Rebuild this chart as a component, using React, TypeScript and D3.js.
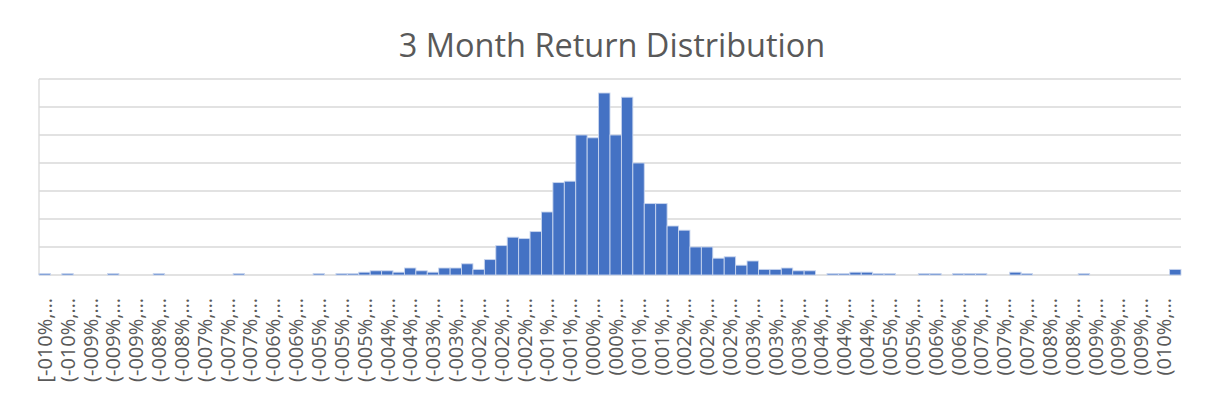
import { useEffect, useRef } from "react";
import * as d3 from "d3";

const TITLE = "3 Month Return Distribution";

// counts per 0.2% bin (gridline = 20)
const BIN_COUNTS = [
  1, 0, 1, 0, 0, 0, 1, 0, 0, 0,
  1, 0, 0, 0, 0, 0, 0, 1, 0, 0,
  0, 0, 0, 0, 1, 0, 1, 1, 2, 3,
  3, 2, 5, 3, 2, 5, 5, 8, 4, 11,
  21, 27, 26, 31, 45, 66, 67, 100, 98, 130,
  100, 127, 80, 51, 51, 35, 32, 20, 20, 12,
  13, 7, 10, 4, 4, 5, 3, 3, 0, 1,
  1, 2, 2, 1, 1, 0, 0, 1, 1, 0,
  1, 1, 1, 0, 0, 2, 1, 0, 0, 0,
  0, 1, 0, 0, 0, 0, 0, 0, 0, 4,
];

// one label every second bin
const TICK_LABELS = [
  "[-010%,…", "(-010%,…", "(-009%,…", "(-009%,…", "(-009%,…",
  "(-008%,…", "(-008%,…", "(-007%,…", "(-007%,…", "(-007%,…",
  "(-006%,…", "(-006%,…", "(-005%,…", "(-005%,…", "(-005%,…",
  "(-004%,…", "(-004%,…", "(-003%,…", "(-003%,…", "(-002%,…",
  "(-002%,…", "(-002%,…", "(-001%,…", "(-001%,…", "(000%,…",
  "(000%,…", "(001%,…", "(001%,…", "(002%,…", "(002%,…",
  "(002%,…", "(003%,…", "(003%,…", "(003%,…", "(004%,…",
  "(004%,…", "(004%,…", "(005%,…", "(005%,…", "(006%,…",
  "(006%,…", "(007%,…", "(007%,…", "(007%,…", "(008%,…",
  "(008%,…", "(009%,…", "(009%,…", "(009%,…", "(010%,…",
];

const FONT = "'Open Sans', sans-serif";

export default function App() {
  const svgRef = useRef<SVGSVGElement>(null);

  useEffect(() => {
    if (!svgRef.current) return;
    const W = 1214;
    const H = 412;
    const left = 39, right = 1181, top = 79, bottom = 275;

    d3.select(svgRef.current).selectAll("*").remove();
    const svg = d3.select(svgRef.current).attr("width", W).attr("height", H);

    svg.append("rect").attr("width", W).attr("height", H).attr("fill", "#fff");

    const x = d3.scaleBand<number>()
      .domain(d3.range(BIN_COUNTS.length))
      .range([left, right])
      .padding(0);
    const y = d3.scaleLinear().domain([0, 140]).range([bottom, top]);

    // gridlines
    svg.append("g")
      .selectAll("line")
      .data(y.ticks(7))
      .join("line")
      .attr("x1", left)
      .attr("x2", right)
      .attr("y1", (d) => y(d))
      .attr("y2", (d) => y(d))
      .attr("stroke", "#d9d9d9")
      .attr("stroke-width", 1.3);

    svg.append("line")
      .attr("x1", left).attr("x2", left)
      .attr("y1", top).attr("y2", bottom)
      .attr("stroke", "#d9d9d9")
      .attr("stroke-width", 1.3);

    // bars
    svg.append("g")
      .selectAll("rect")
      .data(BIN_COUNTS.map((v, i) => ({ v, i })).filter((d) => d.v > 0))
      .join("rect")
      .attr("x", (d) => x(d.i)!)
      .attr("y", (d) => y(d.v))
      .attr("width", x.bandwidth())
      .attr("height", (d) => y(0) - y(d.v))
      .attr("fill", "#4472C4")
      .attr("stroke", "#c8d5ee")
      .attr("stroke-width", 0.9);

    // x labels, every second bin
    const bw = x.bandwidth();
    svg.append("g")
      .selectAll("text")
      .data(TICK_LABELS)
      .join("text")
      .attr("transform", (_, i) => `translate(${x(i * 2)! + bw / 2},298) rotate(-90)`)
      .attr("text-anchor", "end")
      .attr("dy", "0.36em")
      .attr("fill", "#595959")
      .attr("font-family", FONT)
      .attr("font-size", "20px")
      .text((d) => d);

    // title
    svg.append("text")
      .attr("x", (left + right) / 2 + 2)
      .attr("y", 57)
      .attr("text-anchor", "middle")
      .attr("fill", "#595959")
      .attr("font-family", FONT)
      .attr("font-size", "32.5px")
      .text(TITLE);
  }, []);

  return (
    <svg
      ref={svgRef}
      style={{ position: "absolute", left: 0, top: 0, display: "block" }}
    />
  );
}
